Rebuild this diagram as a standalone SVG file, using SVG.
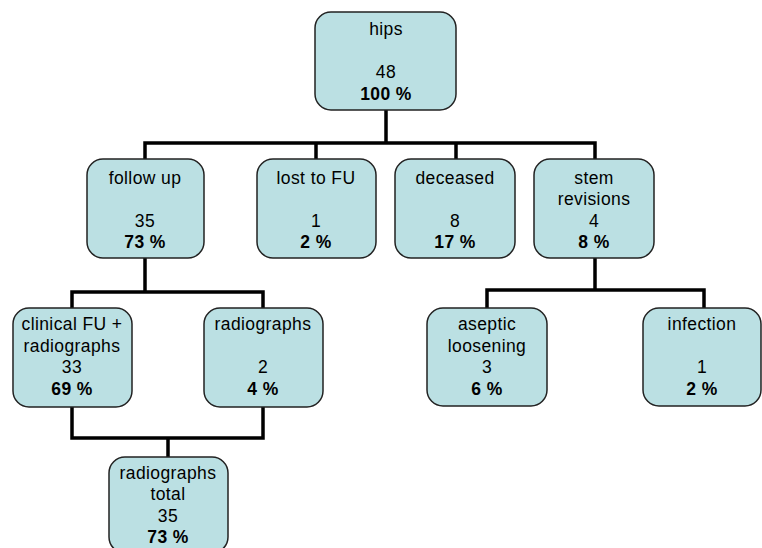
<svg xmlns="http://www.w3.org/2000/svg" width="762" height="548" viewBox="0 0 762 548">
<style>
.box{fill:#bbe0e3;stroke:#222;stroke-width:1.5}
text{font-family:"Liberation Sans",Arial,sans-serif;font-size:17.5px;letter-spacing:0.4px;fill:#000;text-anchor:middle}
.b{font-weight:bold}
.c{fill:none;stroke:#000;stroke-width:3.5;stroke-linejoin:miter;stroke-linecap:square}
</style>
<rect width="762" height="548" fill="#fff"/>
<g id="connectors">
<path class="c" d="M386 111V143M145 143H595M145 143V158M316 143V158M456 143V158M595 143V158"/>
<path class="c" d="M145 259V292M72 292H263M72 292V307M263 292V307"/>
<path class="c" d="M72 408V438H263V408M168 438V456"/>
<path class="c" d="M595 259V290M487 290H704M487 290V307M704 290V307"/>
</g>
<g id="hips"><rect class="box" x="315" y="12" width="141" height="98" rx="16"/>
<text x="386" y="35">hips</text><text x="386" y="78">48</text><text class="b" x="386" y="100">100 %</text></g>
<g id="followup"><rect class="box" x="87" y="159" width="117" height="99" rx="16"/>
<text x="145" y="184">follow up</text><text x="145" y="227">35</text><text class="b" x="145" y="248">73 %</text></g>
<g id="lost"><rect class="box" x="257" y="159" width="119" height="99" rx="16"/>
<text x="316" y="184">lost to FU</text><text x="316" y="227">1</text><text class="b" x="316" y="248">2 %</text></g>
<g id="deceased"><rect class="box" x="395" y="159" width="120" height="99" rx="16"/>
<text x="455" y="184">deceased</text><text x="455" y="227">8</text><text class="b" x="455" y="248">17 %</text></g>
<g id="stem"><rect class="box" x="534" y="159" width="120" height="99" rx="16"/>
<text x="594" y="184">stem</text><text x="594" y="205">revisions</text><text x="594" y="227">4</text><text class="b" x="594" y="248">8 %</text></g>
<g id="clinical"><rect class="box" x="13" y="308" width="119" height="99" rx="16"/>
<text x="72" y="330">clinical FU +</text><text x="72" y="352">radiographs</text><text x="72" y="373">33</text><text class="b" x="72" y="395">69 %</text></g>
<g id="radiographs"><rect class="box" x="204" y="308" width="119" height="99" rx="16"/>
<text x="263" y="330">radiographs</text><text x="263" y="373">2</text><text class="b" x="263" y="395">4 %</text></g>
<g id="total"><rect class="box" x="109" y="457" width="119" height="96" rx="16"/>
<text x="168" y="479">radiographs</text><text x="168" y="500">total</text><text x="168" y="522">35</text><text class="b" x="168" y="543">73 %</text></g>
<g id="aseptic"><rect class="box" x="427" y="308" width="120" height="98" rx="16"/>
<text x="487" y="330">aseptic</text><text x="487" y="352">loosening</text><text x="487" y="373">3</text><text class="b" x="487" y="395">6 %</text></g>
<g id="infection"><rect class="box" x="643" y="308" width="118" height="98" rx="16"/>
<text x="702" y="330">infection</text><text x="702" y="373">1</text><text class="b" x="702" y="395">2 %</text></g>
</svg>
